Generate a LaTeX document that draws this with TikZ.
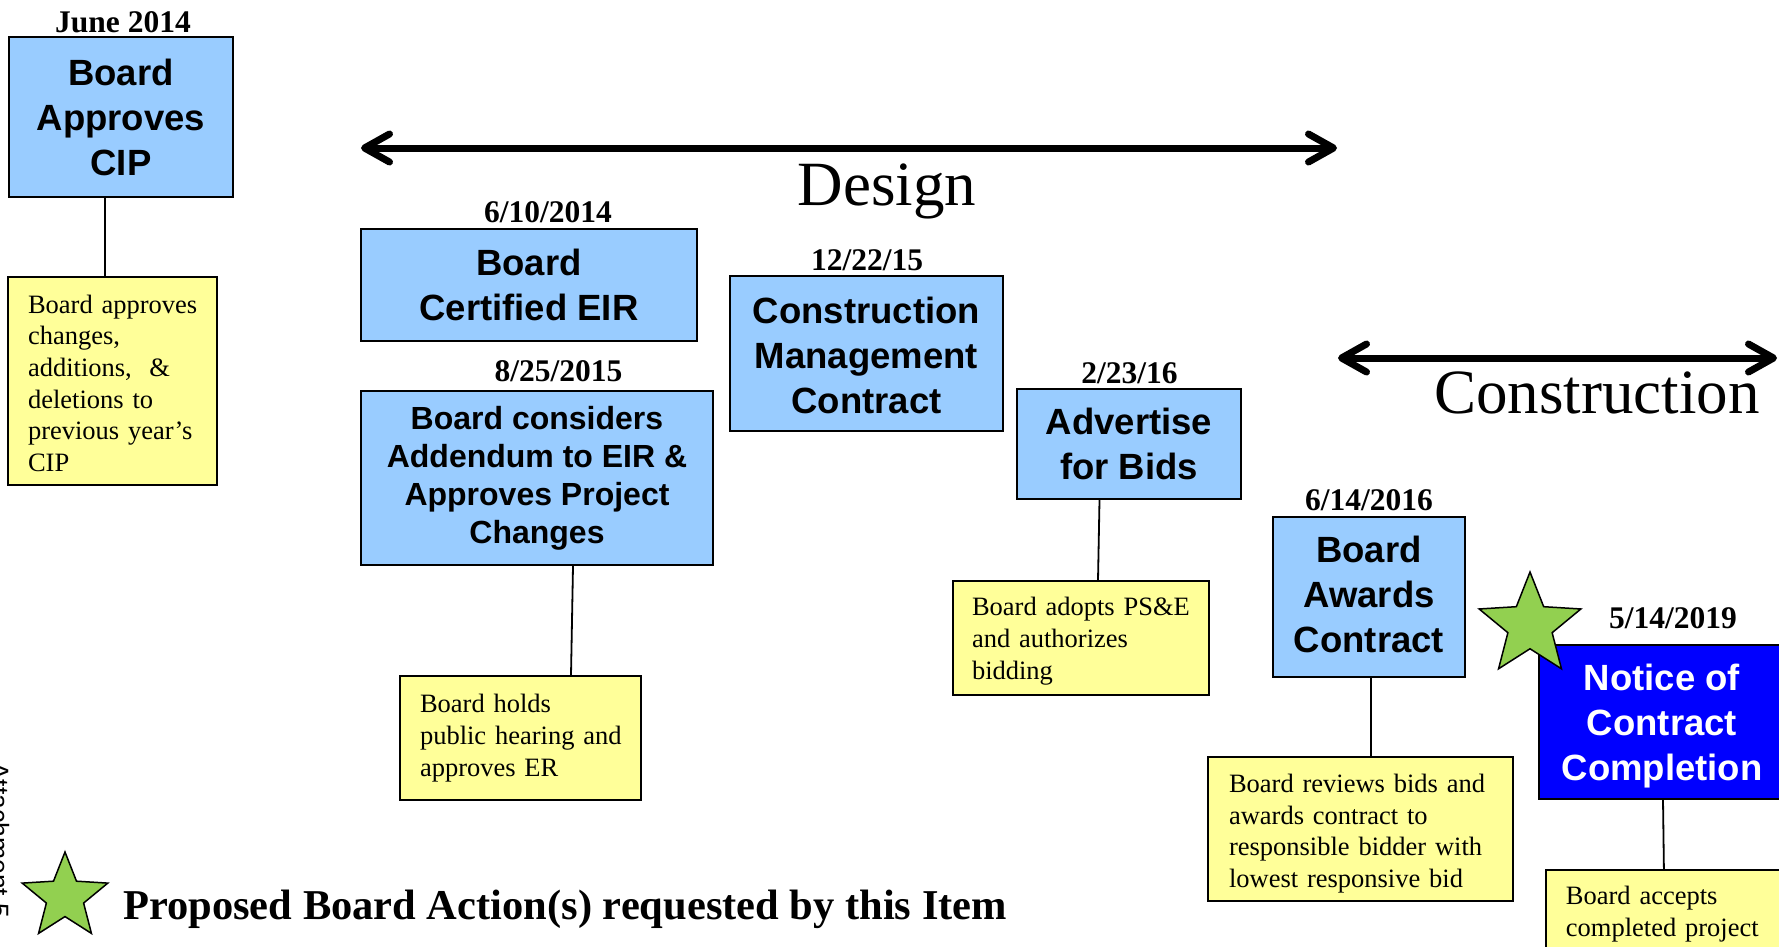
\documentclass[tikz,border=0pt]{standalone}
\usepackage{fontspec}
\setmainfont{Liberation Serif}
\newfontfamily\arialf{Liberation Sans}
\usetikzlibrary{arrows.meta,shapes.geometric}
\definecolor{lblue}{HTML}{99CCFF}
\definecolor{lyellow}{HTML}{FFFF99}
\definecolor{dblue}{HTML}{0000FF}
\definecolor{sgreen}{HTML}{92D050}
\newcommand{\ml}[1]{\mbox{#1}}
\newcommand{\tp}[1]{\rule{0pt}{#1}}
\newcommand{\bt}[1]{\rule[-#1]{0pt}{#1}}
\begin{document}
\begin{tikzpicture}[x=1pt,y=-1pt,
  bluebox/.style={draw=black, line width=2pt, fill=lblue, align=center, inner sep=0pt,
    font=\arialf\bfseries\fontsize{36.5}{45}\selectfont},
  ybox/.style={draw=black, line width=1.8pt, fill=lyellow, align=left, inner sep=0pt,
    font=\fontsize{26.5}{31.7}\selectfont},
  datelbl/.style={anchor=base, inner sep=0pt, font=\bfseries\fontsize{31.5}{36}\selectfont},
  conn/.style={draw=black, line width=1.8pt},
  phase/.style={line width=7pt, line cap=round,
    arrows={Straight Barb[length=25pt,width=28pt,round]-Straight Barb[length=25pt,width=28pt,round]}},
  phlabel/.style={anchor=base, inner sep=0pt, font=\fontsize{63}{70}\selectfont},
  starshape/.style={star, star points=5, star point ratio=2.3, draw=black, line width=1.5pt,
    fill=sgreen, inner sep=0pt}
]
\useasboundingbox (0,0) rectangle (1779,946);
\clip (0,0) rectangle (1779,946);

% phases
\coordinate (dl) at (361,148);
\coordinate (dr) at (1337,148);
\draw[phase] (dl) -- (dr);
\node[phlabel] (design) at (887,205) {Design};
\coordinate (cl) at (1338,358);
\coordinate (cr) at (1777,358);
\draw[phase] (cl) -- (cr);
\node[phlabel] (constr) at (1597,413) {Construction};

% June 2014
\node[datelbl] (d1) at (123,32) {June 2014};
\node[bluebox, minimum width=224pt, minimum height=160pt] (b1) at (121,117) {Board\\Approves\\CIP};
\node[ybox, minimum width=209pt, minimum height=208pt, text width=169pt] (y1) at (112.5,381)
  {\tp{23pt}\ml{Board approves}\\\ml{changes,}\\\ml{additions,\ \ \&}\\\ml{deletions to}\\\ml{previous year’s}\\\ml{CIP}};

% EIR
\node[datelbl] (d2) at (548,222) {6/10/2014};
\node[bluebox, minimum width=336pt, minimum height=112pt] (b2) at (529,285) {Board\\Certified EIR};
\node[datelbl] (d3) at (558.5,381) {8/25/2015};
\node[bluebox, font=\arialf\bfseries\fontsize{32}{38}\selectfont, minimum width=352pt, minimum height=174pt] (b3) at (537,478)
  {Board considers\\Addendum to EIR \&\\Approves Project\\Changes};
\node[ybox, minimum width=241pt, minimum height=124pt, text width=201pt] (y2) at (520.5,738)
  {\ml{Board holds}\\\ml{public hearing and}\\\ml{approves ER}};

% CM contract
\node[datelbl] (d4) at (867,270) {12/22/15};
\node[bluebox, minimum width=273pt, minimum height=155pt] (b4) at (866.5,353.5) {\tp{30pt}Construction\\Management\\Contract};

% Advertise
\node[datelbl] (d5) at (1129.5,383.5) {2/23/16};
\node[bluebox, minimum width=224pt, minimum height=110pt] (b5) at (1129,444) {Advertise\\for Bids};
\node[ybox, minimum width=256pt, minimum height=114pt, text width=218pt] (y3) at (1081,638)
  {\tp{25pt}\ml{Board adopts PS\&E}\\\ml{and authorizes}\\\ml{bidding}};

% Awards
\node[datelbl] (d6) at (1369,510.5) {6/14/2016};
\node[bluebox, minimum width=192pt, minimum height=160pt] (b6) at (1369,597) {Board\\Awards\\Contract\bt{4.5pt}};
\node[ybox, minimum width=305pt, minimum height=144pt, text width=263pt] (y4) at (1360.5,829)
  {\tp{27.5pt}\ml{Board reviews bids and}\\\ml{awards contract to}\\\ml{responsible bidder with}\\\ml{lowest responsive bid}};

% Notice
\node[datelbl] (d7) at (1673,628) {5/14/2019};
\node[bluebox, fill=dblue, text=white, minimum width=246pt, minimum height=154pt] (b7) at (1662,722)
  {\tp{35pt}Notice of\\Contract\\Completion};
\node[ybox, anchor=north west, inner xsep=20pt, inner ysep=16pt, text width=215pt] (y5) at (1545,869)
  {\ml{Board accepts}\\\ml{completed project}};

% connectors
\draw[conn] ([xshift=-16pt]b1.south) -- ([xshift=-7.5pt]y1.north);
\draw[conn] ([xshift=36pt]b3.south) -- ([xshift=50.5pt]y2.north);
\draw[conn] ([xshift=-29.5pt]b5.south) -- ([xshift=17pt]y3.north);
\draw[conn] ([xshift=2pt]b6.south) -- ([xshift=10.5pt]y4.north);
\draw[conn] ([xshift=1pt]b7.south) -- ([xshift=-9.5pt]y5.north);

% stars
\node[starshape, minimum size=107pt] (s1) at (1530,625.5) {};
\node[starshape, minimum size=90pt] (s2) at (65,897) {};
\node[anchor=base west, inner sep=0pt, font=\bfseries\fontsize{42.5}{48}\selectfont] (leg) at (123,919)
  {Proposed Board Action(s) requested by this Item};

% side label
\node[rotate=-90, anchor=north west, inner sep=0pt, font=\arialf\fontsize{26.5}{30}\selectfont] (att) at (9.5,762) {Attachment 5};
\end{tikzpicture}
\end{document}
